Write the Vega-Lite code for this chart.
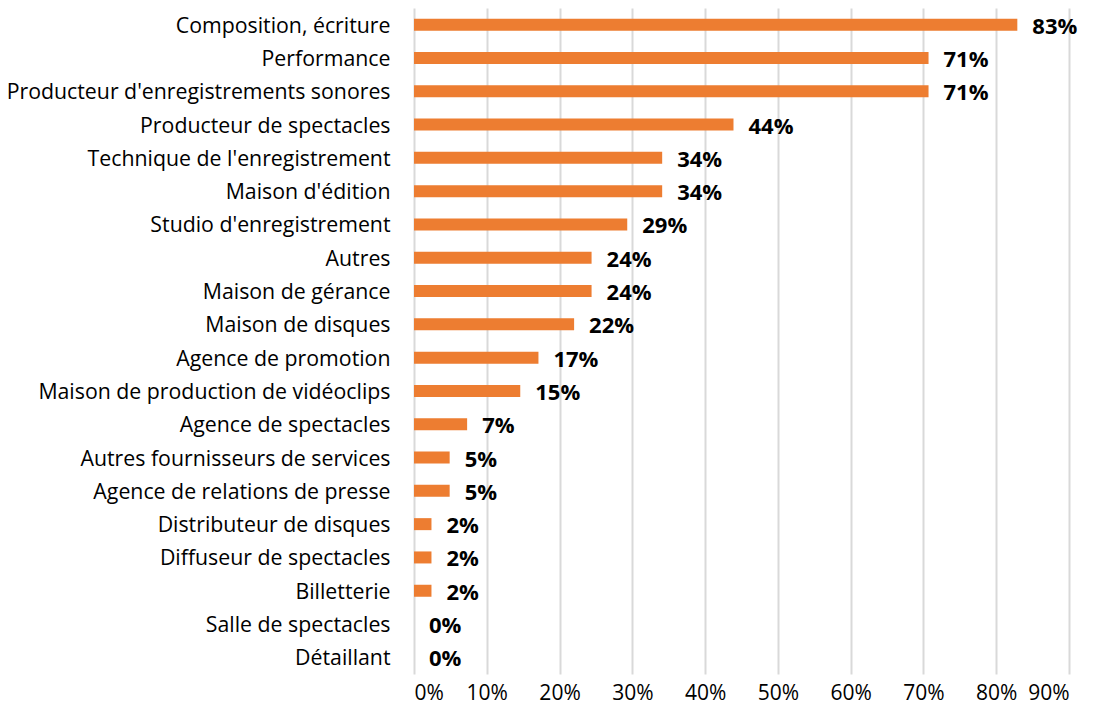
{
  "$schema": "https://vega.github.io/schema/vega-lite/v6.json",
  "width": 655,
  "height": 666,
  "autosize": {"type": "none"},
  "padding": {"left": 414, "top": 8, "right": 24, "bottom": 39},
  "background": "white",
  "config": {"view": {"stroke": null}, "font": "Open Sans"},
  "data": {"values": [
    {"cat": "Composition, écriture", "v": 0.829},
    {"cat": "Performance", "v": 0.707},
    {"cat": "Producteur d'enregistrements sonores", "v": 0.707},
    {"cat": "Producteur de spectacles", "v": 0.439},
    {"cat": "Technique de l'enregistrement", "v": 0.341},
    {"cat": "Maison d'édition", "v": 0.341},
    {"cat": "Studio d'enregistrement", "v": 0.293},
    {"cat": "Autres", "v": 0.244},
    {"cat": "Maison de gérance", "v": 0.244},
    {"cat": "Maison de disques", "v": 0.22},
    {"cat": "Agence de promotion", "v": 0.171},
    {"cat": "Maison de production de vidéoclips", "v": 0.146},
    {"cat": "Agence de spectacles", "v": 0.073},
    {"cat": "Autres fournisseurs de services", "v": 0.049},
    {"cat": "Agence de relations de presse", "v": 0.049},
    {"cat": "Distributeur de disques", "v": 0.024},
    {"cat": "Diffuseur de spectacles", "v": 0.024},
    {"cat": "Billetterie", "v": 0.024},
    {"cat": "Salle de spectacles", "v": 0},
    {"cat": "Détaillant", "v": 0}
  ]},
  "encoding": {
    "y": {"field": "cat", "type": "nominal", "sort": null, "title": null,
      "axis": {"domain": false, "ticks": false, "labelFontSize": 21.3, "labelColor": "#000000", "labelPadding": 24, "labelLimit": 0, "labelOffset": 2, "labelFont": "Open Sans"}},
    "x": {"field": "v", "type": "quantitative", "title": null,
      "scale": {"domain": [0, 0.9], "nice": false},
      "axis": {"values": [0, 0.1, 0.2, 0.3, 0.4, 0.5, 0.6, 0.7, 0.8, 0.9], "format": ".0%", "domain": false, "ticks": false,
        "gridColor": "#d9d9d9", "gridWidth": 2, "labelFontSize": 21, "labelColor": "#000000", "labelPadding": 8, "labelFont": "Open Sans"}}
  },
  "layer": [
    {"mark": {"type": "bar", "color": "#ED7D31", "size": 12}},
    {"mark": {"type": "text", "align": "left", "dx": 15, "dy": 2, "fontWeight": "bold", "fontSize": 22, "color": "#000000", "font": "Open Sans"},
      "encoding": {"text": {"field": "v", "type": "quantitative", "format": ".0%"}}}
  ]
}
